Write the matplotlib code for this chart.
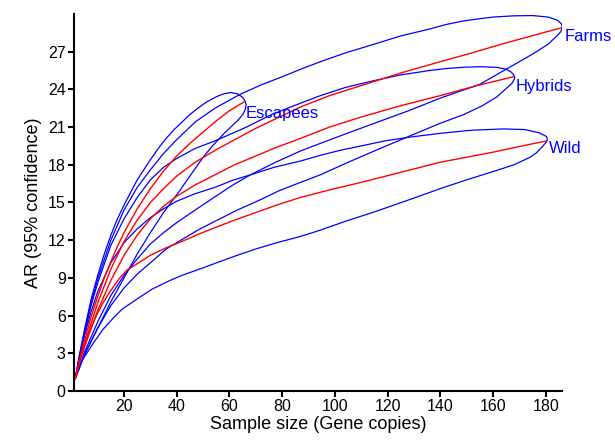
import matplotlib
matplotlib.use("Agg")
import matplotlib.pyplot as plt
import numpy as np

plt.rcParams["font.family"] = ["Liberation Sans", "DejaVu Sans"]

groups = ["Escapees", "Farms", "Hybrids", "Wild"]

# rarefaction means (red)
esc_mean_x = [1.5, 3, 5, 7.5, 10, 12.5, 15, 17.5, 20, 25, 30, 35, 40, 45, 50, 55, 60, 65.5]
esc_mean_y = [1.0, 2.4, 4.0, 5.9, 7.5, 9.0, 10.3, 11.5, 12.6, 14.5, 16.1, 17.5, 18.7, 19.7, 20.6, 21.5, 22.3, 23.0]
farm_mean_x = [1.5, 3, 5, 7.5, 10, 15, 20, 25, 30, 35, 40, 47, 55, 62, 70, 78, 87, 98, 110, 125, 140, 152, 165, 186]
farm_mean_y = [1.0, 2.3, 3.7, 5.4, 7.0, 9.7, 11.9, 13.6, 15.0, 16.1, 17.1, 18.2, 19.2, 20.0, 20.9, 21.7, 22.6, 23.5, 24.3, 25.3, 26.2, 26.9, 27.7, 28.9]
hyb_mean_x = [1.5, 3, 5, 7.5, 10, 15, 20, 25, 30, 35, 40, 47, 54.5, 62, 70, 78, 87, 98, 110, 125, 140, 154, 167.7]
hyb_mean_y = [1.0, 2.2, 3.5, 5.0, 6.4, 8.8, 10.8, 12.4, 13.7, 14.7, 15.5, 16.4, 17.2, 18.0, 18.7, 19.4, 20.1, 21.0, 21.8, 22.7, 23.5, 24.3, 25.0]
wild_mean_x = [1.5, 3.3, 5, 7.5, 9.5, 12, 15, 18, 21, 24.8, 30, 36, 42, 48, 54.5, 62, 70, 78, 87, 98, 110, 125, 140, 150, 160, 170, 180.4]
wild_mean_y = [1.0, 2.6, 3.6, 5.0, 6.0, 7.0, 8.0, 8.9, 9.6, 10.1, 10.8, 11.4, 11.9, 12.45, 13.0, 13.6, 14.2, 14.8, 15.4, 16.0, 16.6, 17.4, 18.2, 18.6, 19.0, 19.45, 19.9]

# 95% confidence bounds (blue); upper and lower meet in a loop at the end
esc_upper_x = [1.5, 3, 5, 7.5, 10, 12.5, 15, 17.5, 20, 25, 30, 33, 36, 39, 42, 45, 48, 51, 54, 56, 58, 60.5, 63, 64.8, 65.9, 66.3]
esc_upper_y = [1.0, 2.8, 4.9, 7.3, 9.2, 10.9, 12.4, 13.7, 14.8, 16.8, 18.4, 19.3, 20.1, 20.8, 21.4, 22.0, 22.5, 22.95, 23.3, 23.5, 23.65, 23.75, 23.65, 23.4, 23.1, 22.8]
esc_lower_x = [1.5, 5, 10, 15, 20, 25, 30, 35, 41, 46, 50, 54, 58, 61.5, 63.5, 65.2, 66.1, 66.3]
esc_lower_y = [1.0, 2.9, 5.0, 7.1, 9.0, 10.9, 12.6, 14.2, 15.9, 17.4, 18.6, 19.6, 20.5, 21.2, 21.6, 22.05, 22.45, 22.8]

farm_upper_x = [1.5, 3, 5, 7.5, 10, 15, 20, 25, 30, 35, 40, 47, 54.5, 64, 72, 80, 87, 94.5, 104, 115, 125, 136, 142, 149, 155, 160, 168, 175, 181, 184.5, 186, 186.3]
farm_upper_y = [1.0, 2.7, 4.7, 7.0, 8.9, 12.0, 14.4, 16.2, 17.6, 18.9, 20.0, 21.4, 22.5, 23.6, 24.35, 25.0, 25.6, 26.2, 26.9, 27.6, 28.25, 28.8, 29.15, 29.45, 29.62, 29.75, 29.85, 29.87, 29.75, 29.5, 29.2, 28.95]
farm_lower_x = [1.5, 5, 10, 15, 20, 25, 30, 35, 40, 47, 54.5, 61, 68, 77, 87, 94.5, 104, 115, 128, 140, 155, 165, 175, 181, 184.5, 185.8, 186.3]
farm_lower_y = [1.0, 3.1, 5.5, 7.6, 9.2, 10.5, 11.7, 12.6, 13.4, 14.4, 15.45, 16.35, 17.2, 18.15, 19.1, 19.7, 20.45, 21.3, 22.3, 23.3, 24.4, 25.6, 26.8, 27.6, 28.3, 28.6, 28.95]

hyb_upper_x = [1.5, 3, 5, 7.5, 10, 15, 20, 25, 30, 35, 40, 47, 54.5, 60, 66.5, 76, 87, 94.5, 104, 115, 125, 136, 142, 149, 155, 161.5, 165, 166.8, 167.9, 168.3]
hyb_upper_y = [1.0, 2.7, 4.6, 6.8, 8.6, 11.6, 13.7, 15.4, 16.8, 17.8, 18.5, 19.3, 19.9, 20.4, 21.0, 22.0, 22.9, 23.5, 24.15, 24.7, 25.15, 25.5, 25.65, 25.76, 25.8, 25.75, 25.6, 25.4, 25.15, 24.9]
hyb_lower_x = [1.5, 5, 10, 15, 20, 25, 30, 36, 42.4, 48, 54.5, 63, 71.6, 79, 87, 94.5, 104, 115, 128, 140, 149, 156, 161.5, 165.2, 167.3, 168.3]
hyb_lower_y = [1.0, 2.9, 5.0, 6.8, 8.2, 9.3, 10.2, 11.3, 12.1, 12.8, 13.5, 14.4, 15.2, 15.95, 16.6, 17.2, 18.1, 19.1, 20.25, 21.3, 22.0, 22.7, 23.4, 24.1, 24.5, 24.9]

wild_upper_x = [1.5, 3, 5, 7.5, 10, 15, 20, 25, 30, 35, 40, 47, 54.5, 61, 68, 77, 87, 94.5, 102, 110, 119, 128.5, 140, 152, 164, 172, 177.5, 180.3, 180.7]
wild_upper_y = [1.0, 2.6, 4.4, 6.3, 7.9, 10.2, 11.8, 12.9, 13.8, 14.5, 15.1, 15.7, 16.2, 16.75, 17.2, 17.8, 18.3, 18.75, 19.15, 19.5, 19.9, 20.2, 20.5, 20.75, 20.85, 20.8, 20.55, 20.25, 20.0]
wild_lower_x = [1.5, 4, 8.3, 12, 15.9, 19.2, 24.8, 30.6, 37.5, 42, 50, 56.4, 63, 70, 78, 87, 94.5, 104, 115, 128, 140, 150, 161.4, 168, 174.1, 176.5, 178.8, 180.2, 180.7]
wild_lower_y = [1.0, 2.4, 3.8, 4.9, 5.8, 6.5, 7.3, 8.1, 8.8, 9.2, 9.8, 10.3, 10.8, 11.3, 11.8, 12.3, 12.8, 13.5, 14.25, 15.2, 16.1, 16.8, 17.55, 18.0, 18.6, 18.95, 19.45, 19.8, 20.0]

means = [(esc_mean_x, esc_mean_y), (farm_mean_x, farm_mean_y),
         (hyb_mean_x, hyb_mean_y), (wild_mean_x, wild_mean_y)]
envelopes = [
    (esc_upper_x, esc_upper_y, esc_lower_x, esc_lower_y),
    (farm_upper_x, farm_upper_y, farm_lower_x, farm_lower_y),
    (hyb_upper_x, hyb_upper_y, hyb_lower_x, hyb_lower_y),
    (wild_upper_x, wild_upper_y, wild_lower_x, wild_lower_y),
]
label_offsets = [(1.5, -8), (2.4, -6), (2, -6.7), (1.7, -5.8)]

fig = plt.figure(figsize=(6.15, 4.41), dpi=100)
ax = fig.add_axes([0.1203, 0.1134, 0.7935, 0.855])

for (ux, uy, lx, ly) in envelopes:
    ex = np.concatenate([ux, lx[::-1]])
    ey = np.concatenate([uy, ly[::-1]])
    ax.plot(ex, ey, color="#0000ff", lw=0.9, solid_joinstyle="round")

for name, (mx, my), off in zip(groups, means, label_offsets):
    ax.plot(mx, my, color="#ff0000", lw=1.0, solid_joinstyle="round")
    ax.annotate(name, xy=(mx[-1], my[-1]), xytext=off, textcoords="offset points",
                ha="left", va="center", color="#0000ff", fontsize=12)

ax.set_xlim(1, 186.2)
ax.set_ylim(0, 30)
ax.set_xticks(range(20, 181, 20))
ax.set_yticks(range(0, 28, 3))
ax.spines["top"].set_visible(False)
ax.spines["right"].set_visible(False)
for s in ("left", "bottom"):
    ax.spines[s].set_linewidth(1.5)
ax.tick_params(direction="out", length=4, width=1.5, labelsize=11.5, pad=2)
ax.set_xlabel("Sample size (Gene copies)", fontsize=13, labelpad=1)
ax.set_ylabel("AR (95% confidence)", fontsize=13, labelpad=4)

fig.savefig("out.png", dpi=100)
